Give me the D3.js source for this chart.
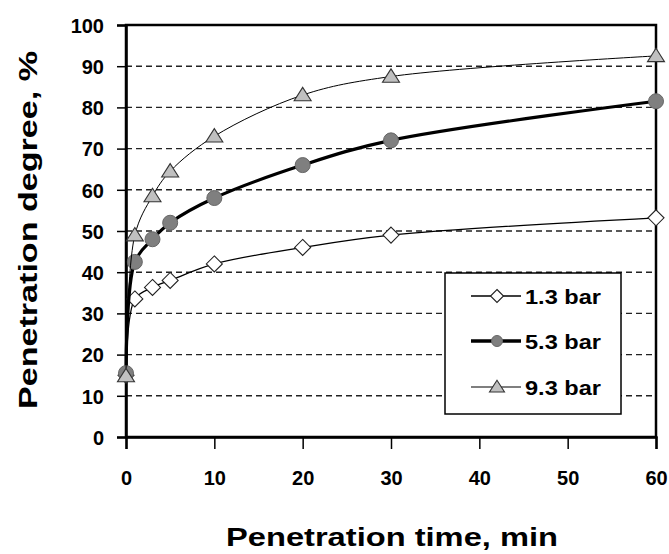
<!DOCTYPE html>
<html>
<head>
<meta charset="utf-8">
<script src="https://cdn.jsdelivr.net/npm/d3@7"></script>
<style>
  html, body { margin: 0; padding: 0; background: #fff; }
  svg { display: block; }
  text { font-family: "Liberation Sans", Arial, sans-serif; font-weight: bold; fill: #000; }
</style>
</head>
<body>
<svg id="chart" width="669" height="554"></svg>
<script>
// Penetration time, min
const times = [0, 1, 3, 5, 10, 20, 30, 60];
// Penetration degree, % at each pressure
const bar13 = [15, 33.5, 36.3, 38, 42, 46, 49, 53.2];
const bar53 = [15.5, 42.5, 48, 52, 58, 66, 72, 81.5];
const bar93 = [14.8, 49, 58.5, 64.5, 73, 83, 87.5, 92.5];
const seriesNames = ["1.3 bar", "5.3 bar", "9.3 bar"];
const xTicks = [0, 10, 20, 30, 40, 50, 60];
const yTicks = [0, 10, 20, 30, 40, 50, 60, 70, 80, 90, 100];

const svg = d3.select("#chart");
const plotLeft = 126, plotRight = 656, plotTop = 25, plotBottom = 437;

const x = d3.scaleLinear().domain([0, 60]).range([plotLeft, plotRight]);
const y = d3.scaleLinear().domain([0, 100]).range([plotBottom, plotTop]);

// dashed horizontal gridlines
svg.append("g").selectAll("line")
  .data(yTicks.filter(v => v > 0 && v < 100))
  .join("line")
  .attr("x1", plotLeft).attr("x2", plotRight)
  .attr("y1", d => y(d)).attr("y2", d => y(d))
  .attr("stroke", "#222").attr("stroke-width", 1.4)
  .attr("stroke-dasharray", "6,4");

// plot frame (top and right borders)
svg.append("rect")
  .attr("x", plotLeft).attr("y", plotTop)
  .attr("width", plotRight - plotLeft).attr("height", plotBottom - plotTop)
  .attr("fill", "none").attr("stroke", "#000").attr("stroke-width", 2.5);

// axes
const tickFont = "20px";
const xAxis = d3.axisBottom(x).tickValues(xTicks).tickSize(12).tickFormat(d3.format("d"));
const gx = svg.append("g").attr("transform", `translate(0,${plotBottom})`).call(xAxis);
gx.select(".domain").attr("stroke", "#000").attr("stroke-width", 2.5);
gx.selectAll(".tick line").attr("stroke", "#000").attr("stroke-width", 1.5);
gx.selectAll(".tick text")
  .attr("y", 48).attr("dy", 0)
  .style("font-size", tickFont)
  .style("font-family", "'Liberation Sans', Arial, sans-serif")
  .style("font-weight", "bold");

const yAxis = d3.axisLeft(y).tickValues(yTicks).tickSize(9).tickFormat(d3.format("d"));
const gy = svg.append("g").attr("transform", `translate(${plotLeft},0)`).call(yAxis);
gy.select(".domain").attr("stroke", "#000").attr("stroke-width", 2.5);
gy.selectAll(".tick line").attr("stroke", "#000").attr("stroke-width", 1.5);
gy.selectAll(".tick text")
  .attr("x", -22).attr("dy", "0.36em")
  .style("font-size", tickFont)
  .style("font-family", "'Liberation Sans', Arial, sans-serif")
  .style("font-weight", "bold");

// axis titles
svg.append("text")
  .attr("x", 392).attr("y", 546)
  .attr("text-anchor", "middle")
  .attr("textLength", 332).attr("lengthAdjust", "spacingAndGlyphs")
  .style("font-size", "25px")
  .text("Penetration time, min");

svg.append("text")
  .attr("transform", "translate(37,230) rotate(-90)")
  .attr("text-anchor", "middle")
  .attr("textLength", 358).attr("lengthAdjust", "spacingAndGlyphs")
  .style("font-size", "25px")
  .text("Penetration degree, %");

// series styles
const styles = [
  { values: bar13, width: 1.3, marker: "diamond", fill: "#fff", stroke: "#222" },
  { values: bar53, width: 3.2, marker: "circle", fill: "#7f7f7f", stroke: "#666" },
  { values: bar93, width: 1.0, marker: "triangle", fill: "#c0c0c0", stroke: "#333" }
];

function markerPath(type, s) {
  if (type === "diamond") return `M0,${-s}L${s},0L0,${s}L${-s},0Z`;
  if (type === "triangle") { const h = s * 0.9; return `M0,${-h}L${s},${h * 0.75}L${-s},${h * 0.75}Z`; }
  return null;
}

function drawMarker(g, type, cx, cy, s, st) {
  if (type === "circle") {
    g.append("circle").attr("cx", cx).attr("cy", cy).attr("r", s)
      .attr("fill", st.fill).attr("stroke", st.stroke).attr("stroke-width", 1);
  } else {
    g.append("path").attr("d", markerPath(type, s))
      .attr("transform", `translate(${cx},${cy})`)
      .attr("fill", st.fill).attr("stroke", st.stroke).attr("stroke-width", 1.1);
  }
}

const line = d3.line()
  .x((d, i) => x(times[i]))
  .y(d => y(d))
  .curve(d3.curveCatmullRom.alpha(0.5));

const sizes = { diamond: 8, circle: 7.5, triangle: 8.5 };

styles.forEach(st => {
  const g = svg.append("g");
  g.append("path").datum(st.values)
    .attr("d", line)
    .attr("fill", "none").attr("stroke", "#000")
    .attr("stroke-width", st.width).attr("stroke-linejoin", "round");
  st.values.forEach((v, i) => drawMarker(g, st.marker, x(times[i]), y(v), sizes[st.marker], st));
});

// legend
const lg = svg.append("g");
lg.append("rect")
  .attr("x", 445).attr("y", 273).attr("width", 176).attr("height", 141)
  .attr("fill", "#fff").attr("stroke", "#000").attr("stroke-width", 1.5);
const rowY = [296, 341, 387];
const legendSizes = { diamond: 6.5, circle: 5.5, triangle: 7.5 };
styles.forEach((st, i) => {
  lg.append("line")
    .attr("x1", 471).attr("x2", 521)
    .attr("y1", rowY[i]).attr("y2", rowY[i])
    .attr("stroke", "#000").attr("stroke-width", st.width + (i === 1 ? 0.3 : 0.2));
  drawMarker(lg, st.marker, 497, rowY[i], legendSizes[st.marker], st);
  lg.append("text")
    .attr("x", 525).attr("y", rowY[i]).attr("dy", "0.36em")
    .attr("textLength", 76).attr("lengthAdjust", "spacingAndGlyphs")
    .style("font-size", "21px")
    .text(seriesNames[i]);
});
</script>
</body>
</html>
